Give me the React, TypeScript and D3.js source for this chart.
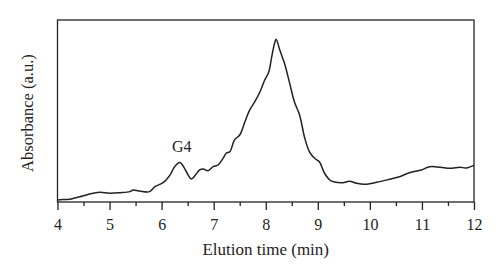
import React, { useRef, useEffect } from 'react';
import * as d3 from 'd3';

// elution time (min) and absorbance (a.u.)
const times = [4.0, 4.1, 4.24, 4.33, 4.43, 4.62, 4.81, 5.0, 5.2, 5.39, 5.45, 5.58, 5.77, 5.87, 6.03, 6.16, 6.25, 6.35, 6.44, 6.51, 6.57, 6.65, 6.73, 6.8, 6.89, 6.99, 7.08, 7.18, 7.24, 7.31, 7.4, 7.5, 7.6, 7.69, 7.79, 7.89, 7.98, 8.06, 8.11, 8.17, 8.2, 8.27, 8.36, 8.46, 8.55, 8.65, 8.75, 8.84, 8.94, 9.03, 9.13, 9.23, 9.32, 9.48, 9.61, 9.74, 9.9, 10.13, 10.38, 10.57, 10.76, 10.99, 11.15, 11.35, 11.54, 11.73, 11.85, 12.0];
const absorbance = [0.011, 0.014, 0.015, 0.022, 0.029, 0.044, 0.053, 0.048, 0.051, 0.057, 0.066, 0.06, 0.057, 0.084, 0.106, 0.148, 0.194, 0.217, 0.185, 0.148, 0.126, 0.148, 0.176, 0.181, 0.172, 0.194, 0.203, 0.24, 0.268, 0.276, 0.341, 0.368, 0.441, 0.505, 0.551, 0.606, 0.67, 0.716, 0.791, 0.872, 0.894, 0.835, 0.762, 0.652, 0.551, 0.478, 0.35, 0.276, 0.24, 0.221, 0.158, 0.121, 0.11, 0.106, 0.114, 0.103, 0.097, 0.108, 0.125, 0.139, 0.161, 0.176, 0.194, 0.191, 0.185, 0.191, 0.187, 0.203];
const majorTicks = [4, 5, 6, 7, 8, 9, 10, 11, 12];
const minorTicks = [4.5, 5.5, 6.5, 7.5, 8.5, 9.5, 10.5, 11.5];
const peakLabel = { text: 'G4', time: 6.35, value: 0.217 };

const App: React.FC = () => {
    const svgRef = useRef<SVGSVGElement | null>(null);

    useEffect(() => {
        const svg = d3.select(svgRef.current);
        svg.selectAll('*').remove();

        const margin = { top: 20, right: 26, bottom: 74, left: 57.5 };
        const width = 500, height = 276;
        const font = '"Liberation Serif", "DejaVu Serif", serif';
        const ink = '#222';

        const x = d3.scaleLinear().domain([4, 12]).range([margin.left, width - margin.right]);
        const y = d3.scaleLinear().domain([0, 1]).range([height - margin.bottom, margin.top]);

        const data = times.map((t, i) => ({ t, a: absorbance[i] }));

        const line = d3.line<{ t: number; a: number }>()
            .x(d => x(d.t))
            .y(d => y(d.a))
            .curve(d3.curveCatmullRom.alpha(0.5));

        svg.append('path')
            .datum(data)
            .attr('d', line)
            .attr('fill', 'none')
            .attr('stroke', ink)
            .attr('stroke-width', 1.5);

        // frame
        svg.append('rect')
            .attr('x', x(4))
            .attr('y', y(1))
            .attr('width', x(12) - x(4))
            .attr('height', y(0) - y(1))
            .attr('fill', 'none')
            .attr('stroke', ink)
            .attr('stroke-width', 1.3);

        const xAxis = d3.axisBottom(x)
            .tickValues(majorTicks)
            .tickSize(8)
            .tickFormat(d3.format('d'));

        const gx = svg.append('g')
            .attr('transform', `translate(0,${y(0)})`)
            .call(xAxis);
        gx.select('.domain').remove();
        gx.selectAll('line').attr('stroke', ink).attr('stroke-width', 1.3);
        gx.selectAll('text')
            .attr('fill', ink)
            .attr('font-family', font)
            .attr('font-size', 16)
            .attr('dy', null)
            .attr('y', 28);

        const gMinor = svg.append('g')
            .attr('transform', `translate(0,${y(0)})`)
            .call(d3.axisBottom(x).tickValues(minorTicks).tickSize(4).tickFormat(() => ''));
        gMinor.select('.domain').remove();
        gMinor.selectAll('line').attr('stroke', ink).attr('stroke-width', 1.3);

        svg.append('text')
            .attr('x', (x(4) + x(12)) / 2)
            .attr('y', 255)
            .attr('text-anchor', 'middle')
            .attr('font-family', font)
            .attr('font-size', 17)
            .attr('fill', ink)
            .text('Elution time (min)');

        svg.append('text')
            .attr('transform', `translate(33,${(y(0) + y(1)) / 2 + 2}) rotate(-90)`)
            .attr('text-anchor', 'middle')
            .attr('font-family', font)
            .attr('font-size', 16.5)
            .attr('fill', ink)
            .text('Absorbance (a.u.)');

        svg.append('text')
            .attr('x', x(peakLabel.time) + 2)
            .attr('y', y(peakLabel.value) - 11)
            .attr('text-anchor', 'middle')
            .attr('font-family', font)
            .attr('font-size', 16)
            .attr('fill', ink)
            .text(peakLabel.text);
    }, []);

    return (
        <svg ref={svgRef} width={500} height={276}
            style={{ position: 'absolute', left: 0, top: 0, background: '#fff' }} />
    );
};

export default App;
